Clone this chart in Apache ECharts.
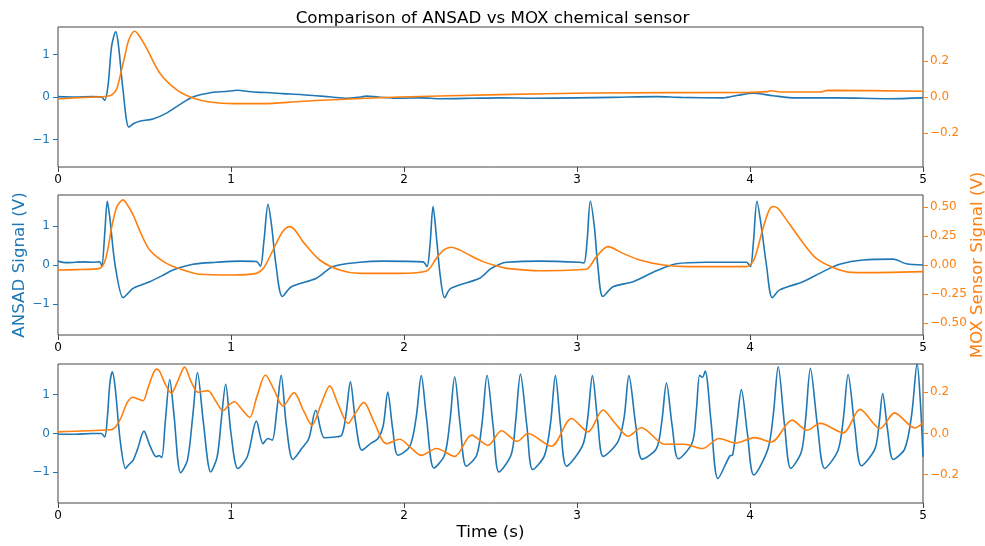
<!DOCTYPE html>
<html>
<head>
<meta charset="utf-8">
<script src="https://cdn.jsdelivr.net/npm/echarts@6/dist/echarts.min.js"></script>
<style>html,body{margin:0;padding:0;background:#fff}#c{width:985px;height:546px}</style>
</head>
<body>
<div id="c"></div>
<script>
// ---------- data ----------
const xTicks = [0, 1, 2, 3, 4, 5];
const ansadTicks = [-1, 0, 1];
const mox1Ticks = [-0.2, 0, 0.2];
const mox2Ticks = [-0.5, -0.25, 0, 0.25, 0.5];
const mox3Ticks = [-0.2, 0, 0.2];

// Panel 1
const p1AnsadT = [0,0.10,0.20,0.251,0.27,0.29,0.31,0.334,0.35,0.375,0.41,0.44,0.472,0.549,0.627,0.703,0.78,0.896,0.97,1.04,1.10,1.166,1.23,1.30,1.40,1.494,1.58,1.667,1.75,1.783,1.85,1.975,2.10,2.206,2.40,2.55,2.75,3.00,3.20,3.459,3.60,3.844,3.93,4.017,4.133,4.268,4.50,4.806,5.00];
const p1AnsadV = [0.01,0.00,0.01,0.00,-0.08,0.30,1.20,1.54,1.20,0.20,-0.71,-0.62,-0.57,-0.52,-0.38,-0.18,0.00,0.11,0.13,0.16,0.13,0.11,0.10,0.08,0.06,0.03,0.00,-0.03,0.00,0.02,0.00,-0.03,-0.02,-0.04,-0.03,-0.02,-0.03,-0.02,-0.01,0.01,-0.01,-0.02,0.04,0.09,0.03,-0.02,-0.02,-0.04,-0.02];
const p1MoxT = [0,0.15,0.299,0.337,0.36,0.386,0.41,0.443,0.47,0.511,0.588,0.685,0.78,0.877,1.012,1.185,1.397,1.59,1.975,2.553,3.073,3.998,4.10,4.124,4.17,4.403,4.451,5.00];
const p1MoxV = [-0.01,-0.003,0.007,0.041,0.12,0.227,0.32,0.366,0.34,0.274,0.134,0.041,-0.006,-0.028,-0.037,-0.037,-0.025,-0.015,0.00,0.013,0.022,0.026,0.030,0.035,0.028,0.028,0.037,0.032];

// Panel 2
const p2AnsadT = [0,0.05,0.10,0.15,0.20,0.241,0.253,0.27,0.285,0.30,0.33,0.376,0.40,0.434,0.53,0.60,0.665,0.78,0.915,1.05,1.147,1.17,1.19,1.214,1.235,1.26,1.297,1.349,1.494,1.59,1.744,1.879,2.11,2.133,2.15,2.168,2.19,2.21,2.235,2.27,2.437,2.50,2.553,2.592,2.784,3.016,3.04,3.058,3.077,3.10,3.12,3.15,3.208,3.324,3.459,3.575,3.748,3.979,4.002,4.02,4.04,4.065,4.095,4.129,4.172,4.306,4.422,4.518,4.653,4.827,4.904,5.00];
const p2AnsadV = [0.10,0.06,0.07,0.08,0.07,0.08,-0.02,0.80,1.64,1.20,0.00,-0.84,-0.75,-0.60,-0.43,-0.28,-0.13,0.02,0.07,0.10,0.09,-0.03,0.60,1.56,1.00,0.00,-0.81,-0.56,-0.34,-0.04,0.07,0.10,0.08,-0.04,0.50,1.50,0.60,-0.30,-0.84,-0.60,-0.34,-0.10,0.02,0.07,0.10,0.07,0.05,0.60,1.64,1.00,0.00,-0.81,-0.56,-0.43,-0.15,0.03,0.07,0.07,-0.04,0.60,1.64,1.00,0.00,-0.84,-0.64,-0.43,-0.17,0.02,0.13,0.15,0.03,0.00];
const p2MoxT = [0,0.10,0.241,0.27,0.29,0.309,0.34,0.376,0.40,0.434,0.48,0.53,0.627,0.742,0.819,1.01,1.147,1.18,1.205,1.262,1.30,1.339,1.37,1.416,1.513,1.628,1.744,1.975,2.13,2.187,2.23,2.274,2.32,2.36,2.457,2.553,2.592,2.784,3.054,3.08,3.112,3.179,3.266,3.362,3.497,3.652,3.979,4.017,4.04,4.075,4.11,4.133,4.16,4.191,4.287,4.383,4.518,4.615,5.00];
const p2MoxV = [-0.043,-0.04,-0.029,0.029,0.15,0.316,0.50,0.56,0.52,0.431,0.27,0.129,0.014,-0.052,-0.08,-0.086,-0.072,-0.04,0.014,0.187,0.29,0.33,0.30,0.201,0.043,-0.043,-0.072,-0.072,-0.052,0.057,0.13,0.153,0.13,0.10,0.029,-0.014,-0.029,-0.049,-0.037,0.00,0.072,0.158,0.10,0.043,0.00,-0.014,-0.014,0.029,0.12,0.316,0.47,0.503,0.49,0.431,0.23,0.057,-0.043,-0.066,-0.057];

// Panel 3
const p3AnsadT = [0,0.10,0.20,0.25,0.27,0.285,0.30,0.314,0.33,0.36,0.391,0.41,0.434,0.46,0.497,0.53,0.569,0.585,0.60,0.62,0.646,0.67,0.709,0.748,0.78,0.806,0.84,0.883,0.92,0.945,0.969,1.00,1.04,1.094,1.147,1.185,1.213,1.238,1.265,1.29,1.32,1.358,1.41,1.45,1.49,1.54,1.60,1.64,1.665,1.69,1.72,1.757,1.81,1.85,1.88,1.906,1.935,1.965,2.033,2.07,2.10,2.13,2.173,2.234,2.265,2.293,2.325,2.36,2.42,2.452,2.48,2.515,2.549,2.62,2.645,2.673,2.71,2.744,2.812,2.848,2.875,2.905,2.94,3.033,3.062,3.089,3.12,3.152,3.237,3.272,3.30,3.34,3.376,3.459,3.49,3.517,3.55,3.586,3.666,3.69,3.709,3.725,3.741,3.775,3.815,3.883,3.90,3.925,3.95,3.985,4.022,4.104,4.135,4.163,4.20,4.236,4.297,4.322,4.349,4.39,4.432,4.509,4.54,4.567,4.605,4.644,4.721,4.745,4.767,4.795,4.828,4.895,4.935,4.966,4.985,5.00];
const p3AnsadV = [-0.02,-0.02,0.00,0.00,-0.09,0.40,1.30,1.59,1.20,-0.20,-0.90,-0.80,-0.69,-0.40,0.06,-0.30,-0.60,-0.57,-0.62,0.30,1.39,0.50,-1.01,-0.69,0.50,1.57,0.30,-0.99,-0.60,0.40,1.27,0.00,-0.90,-0.60,0.32,-0.26,-0.13,-0.17,0.60,1.50,0.20,-0.67,-0.38,-0.13,0.60,-0.11,-0.09,-0.04,0.50,1.33,0.30,-0.43,-0.25,-0.13,0.20,1.07,0.10,-0.56,-0.34,0.40,1.49,0.40,-0.89,-0.56,0.30,1.46,0.20,-0.84,-0.56,0.30,1.50,0.20,-0.99,-0.54,0.30,1.53,0.20,-0.93,-0.57,0.30,1.49,0.20,-0.84,-0.30,0.40,1.49,0.30,-0.59,-0.21,0.40,1.49,0.20,-0.66,-0.39,0.30,1.30,0.20,-0.65,-0.24,0.60,1.50,1.45,1.61,0.30,-1.16,-0.58,-0.55,0.30,1.13,0.00,-1.07,-0.39,0.50,1.72,0.20,-0.90,-0.47,0.40,1.68,0.20,-0.90,-0.43,0.40,1.52,0.20,-0.83,-0.41,0.20,1.03,0.10,-0.67,-0.39,0.50,1.80,0.80,-0.60];
const p3MoxT = [0,0.30,0.318,0.34,0.366,0.40,0.434,0.46,0.491,0.52,0.55,0.569,0.585,0.62,0.655,0.69,0.732,0.77,0.81,0.84,0.867,0.91,0.954,0.99,1.021,1.06,1.108,1.15,1.199,1.25,1.30,1.364,1.42,1.468,1.52,1.571,1.62,1.676,1.72,1.767,1.83,1.898,1.975,2.04,2.10,2.187,2.293,2.39,2.486,2.563,2.655,2.717,2.852,2.968,3.064,3.15,3.22,3.295,3.372,3.507,3.62,3.725,3.821,3.918,4.027,4.124,4.243,4.329,4.407,4.538,4.636,4.752,4.836,4.952,5.00];
const p3MoxV = [0.008,0.018,0.022,0.04,0.08,0.15,0.176,0.168,0.159,0.22,0.29,0.312,0.305,0.24,0.195,0.25,0.322,0.25,0.20,0.205,0.208,0.16,0.11,0.14,0.154,0.12,0.078,0.18,0.284,0.21,0.133,0.198,0.11,0.04,0.14,0.231,0.14,0.049,0.10,0.151,0.05,-0.049,-0.028,-0.07,-0.106,-0.073,-0.111,-0.008,-0.057,0.013,-0.038,0.00,-0.062,0.073,0.008,0.114,0.05,-0.013,0.028,-0.052,-0.052,-0.073,-0.024,-0.046,-0.02,-0.041,0.065,0.016,0.049,0.003,0.117,0.024,0.10,0.027,0.052];

// ---------- chart ----------
const BLUE = '#1f77b4', ORANGE = '#ff7f0e', SPINE = '#444';
const FONT = 'DejaVu Sans';
const NAME_SIZE = 16.7;
const zip = (t, v) => t.map((x, i) => [x, v[i]]);
const fmt = (d) => (v) => Number(v).toFixed(d).replace('-', '\u2212');

const grids = [
  { left: 58, right: 62, top: 27, height: 140 },
  { left: 58, right: 62, top: 195, height: 140 },
  { left: 58, right: 62, top: 364, height: 139 }
].map(g => Object.assign(g, {
  show: true, borderColor: SPINE, borderWidth: 1, backgroundColor: 'transparent',
  containLabel: false, outerBoundsMode: 'none'
}));

const leftRanges = [1.65, 1.8, 1.79];
const rightRanges = [0.39, 0.602, 0.337];
const rightTicks = [mox1Ticks, mox2Ticks, mox3Ticks];
const rightDec = [1, 2, 1];

const xAxes = [0, 1, 2].map(i => ({
  type: 'value', gridIndex: i, min: 0, max: 5, interval: 1,
  axisLine: { show: false, onZero: false },
  axisTick: { show: true, length: 5, lineStyle: { color: SPINE }, customValues: xTicks },
  axisLabel: { color: '#000', fontFamily: FONT, fontSize: 12, margin: 7, customValues: xTicks, formatter: fmt(0) },
  splitLine: { show: false },
  name: i === 2 ? 'Time (s)' : '', nameLocation: 'middle', nameGap: 21, nameMoveOverlap: false,
  nameTextStyle: { color: '#000', fontFamily: FONT, fontSize: NAME_SIZE }
}));

const yAxes = [];
[0, 1, 2].forEach(i => {
  yAxes.push({
    type: 'value', gridIndex: i, position: 'left',
    min: -leftRanges[i], max: leftRanges[i],
    axisLine: { show: false },
    axisTick: { show: true, length: 5, lineStyle: { color: BLUE }, customValues: ansadTicks },
    axisLabel: { color: BLUE, fontFamily: FONT, fontSize: 12, margin: 8, customValues: ansadTicks, formatter: fmt(0) },
    splitLine: { show: false },
    name: i === 1 ? 'ANSAD Signal (V)' : '', nameLocation: 'middle', nameGap: 30, nameRotate: 90,
    nameMoveOverlap: false,
    nameTextStyle: { color: BLUE, fontFamily: FONT, fontSize: NAME_SIZE }
  });
  yAxes.push({
    type: 'value', gridIndex: i, position: 'right',
    min: -rightRanges[i], max: rightRanges[i],
    axisLine: { show: false },
    axisTick: { show: true, length: 5, lineStyle: { color: ORANGE }, customValues: rightTicks[i] },
    axisLabel: { color: ORANGE, fontFamily: FONT, fontSize: 12, margin: 7, customValues: rightTicks[i], formatter: fmt(rightDec[i]) },
    splitLine: { show: false },
    name: i === 1 ? 'MOX Sensor Signal (V)' : '', nameLocation: 'middle', nameGap: 46, nameRotate: 90,
    nameMoveOverlap: false,
    nameTextStyle: { color: ORANGE, fontFamily: FONT, fontSize: NAME_SIZE }
  });
});

const panels = [
  [p1AnsadT, p1AnsadV, p1MoxT, p1MoxV],
  [p2AnsadT, p2AnsadV, p2MoxT, p2MoxV],
  [p3AnsadT, p3AnsadV, p3MoxT, p3MoxV]
];
const series = [];
panels.forEach((p, i) => {
  series.push({
    type: 'line', name: 'ANSAD', xAxisIndex: i, yAxisIndex: 2 * i,
    data: zip(p[0], p[1]), showSymbol: false, smooth: 0.3, clip: true,
    lineStyle: { color: BLUE, width: 1.6 }, z: 3
  });
  series.push({
    type: 'line', name: 'MOX', xAxisIndex: i, yAxisIndex: 2 * i + 1,
    data: zip(p[2], p[3]), showSymbol: false, smooth: 0.3, clip: true,
    lineStyle: { color: ORANGE, width: 1.6 }, z: 4
  });
});

const chart = echarts.init(document.getElementById('c'), null, { renderer: 'canvas' });
chart.setOption({
  animation: false,
  backgroundColor: '#fff',
  title: {
    text: 'Comparison of ANSAD vs MOX chemical sensor', left: 'center', top: 5,
    textStyle: { color: '#000', fontFamily: FONT, fontSize: NAME_SIZE, fontWeight: 'normal' }
  },
  grid: grids,
  xAxis: xAxes,
  yAxis: yAxes,
  series: series
});
</script>
</body>
</html>
